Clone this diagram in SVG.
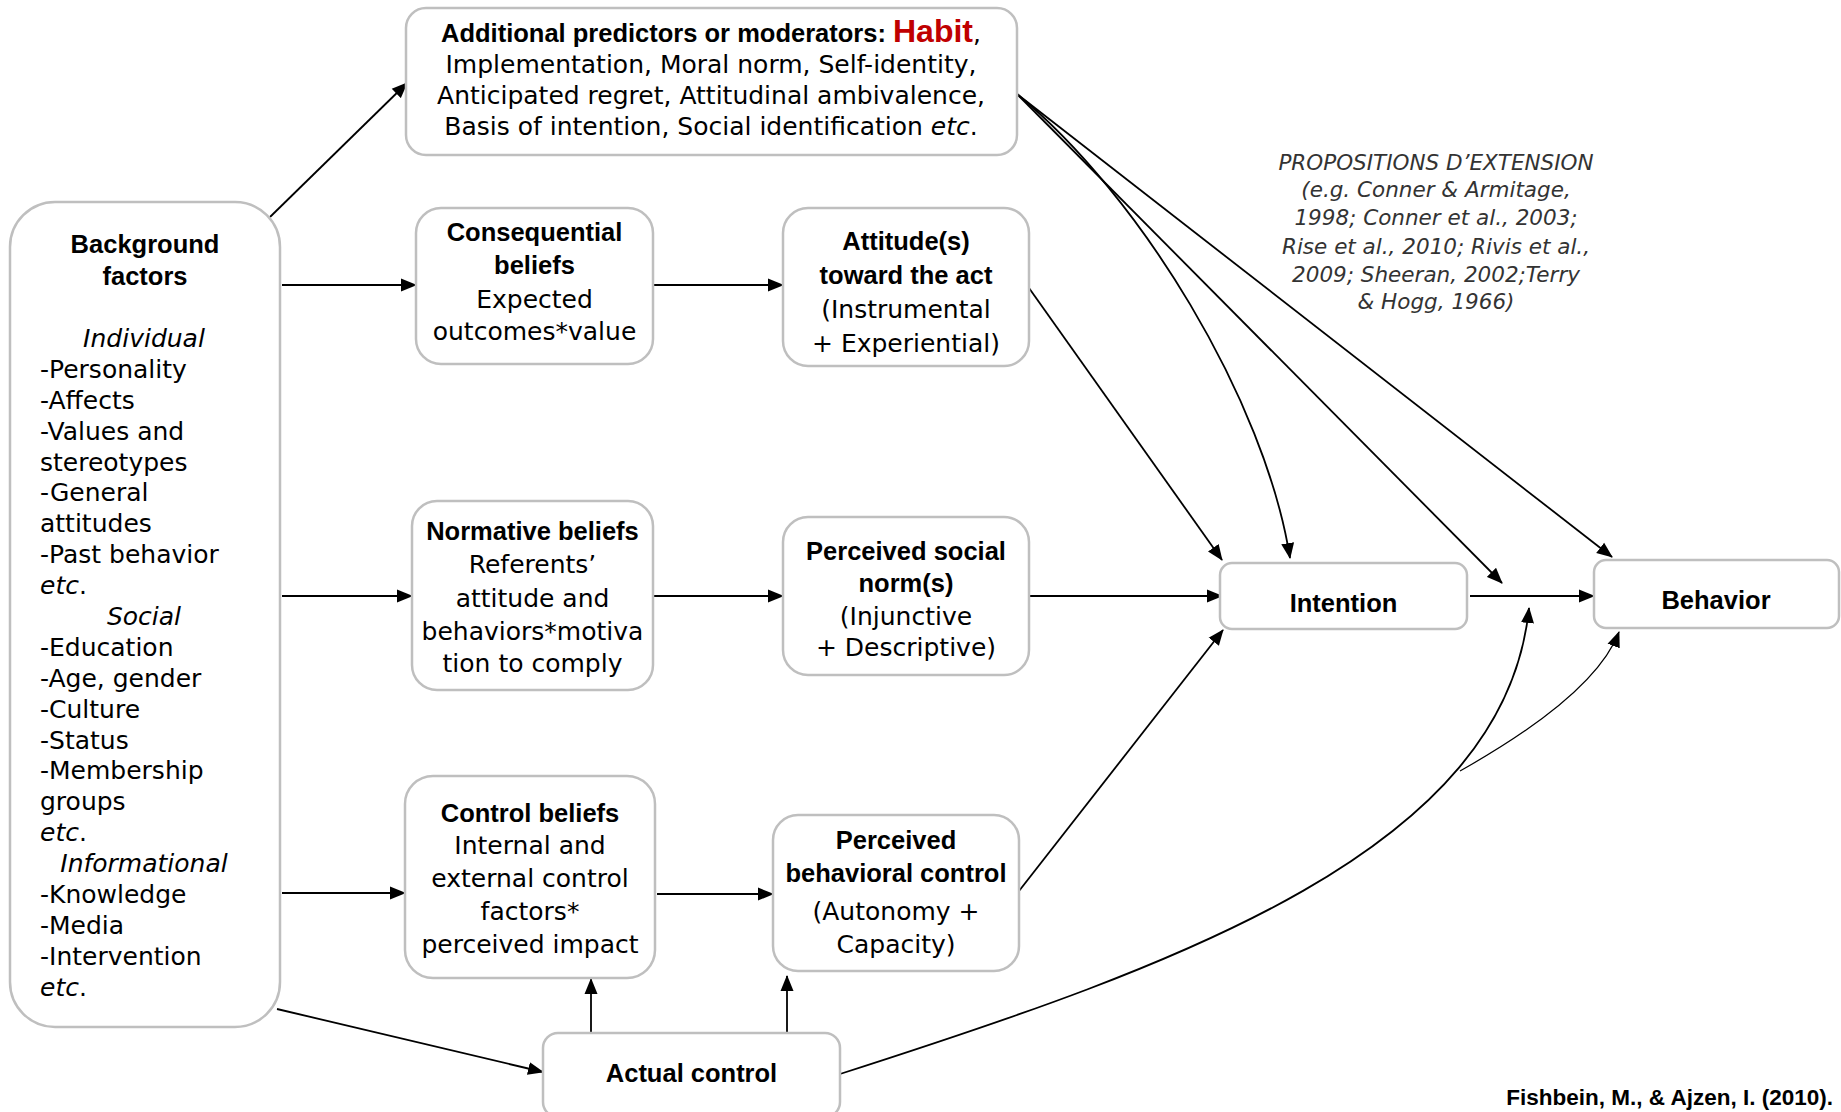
<svg xmlns="http://www.w3.org/2000/svg" width="1841" height="1112" viewBox="0 0 1841 1112">
<style>
.box{fill:#fff;stroke:#bfbfbf;stroke-width:2.5}
.b{font-family:"Liberation Sans",Arial,sans-serif;font-weight:bold;font-size:25.5px;fill:#000;text-anchor:middle}
.r{font-family:"DejaVu Sans",sans-serif;font-size:25px;fill:#000;text-anchor:middle}
.l{font-family:"DejaVu Sans",sans-serif;font-size:25px;fill:#000;text-anchor:start}
.i{font-style:italic}
.p{font-family:"DejaVu Sans",sans-serif;font-style:italic;font-size:21.5px;fill:#333;text-anchor:middle}
.c{fill:none;stroke:#000;stroke-width:1.8;marker-end:url(#ah)}
.cite{font-family:"Liberation Sans",Arial,sans-serif;font-weight:bold;font-size:22.5px;fill:#000;text-anchor:end}
</style>
<defs>
<marker id="ah" markerUnits="userSpaceOnUse" markerWidth="17" markerHeight="14" refX="15" refY="7" orient="auto">
<path d="M0,0.5 L16,7 L0,13.5 z" fill="#000"/>
</marker>
</defs>
<rect width="1841" height="1112" fill="#fff"/>

<g id="connectors">
<path class="c" d="M270,217 L407,83"/>
<path class="c" d="M282,285 L416,285"/>
<path class="c" d="M282,596 L412,596"/>
<path class="c" d="M282,893 L405,893"/>
<path class="c" d="M277,1009 L543,1072"/>
<path class="c" d="M654,285 L783,285"/>
<path class="c" d="M654,596 L783,596"/>
<path class="c" d="M657,894 L773,894"/>
<path class="c" d="M591,1033 L591,979"/>
<path class="c" d="M787,1033 L787,976"/>
<path class="c" d="M1029,288 L1222,560"/>
<path class="c" d="M1029,596 L1222,596"/>
<path class="c" d="M1019,891 L1223,630"/>
<path class="c" d="M1470,596 L1594,596"/>
<path class="c" d="M1017,94 C1140,195 1265,400 1290,558"/>
<path class="c" d="M1017,94 L1502,583"/>
<path class="c" d="M1017,94 L1612,557"/>
<path class="c" d="M840,1074 C1180,965 1505,850 1529,608"/>
<path class="c" style="stroke-width:1.2" d="M1460,771 Q1595,695 1619,632"/>
</g>

<g id="background">
<rect class="box" x="10" y="202" width="270" height="825" rx="45"/>
<text class="b" x="145" y="253">Background</text>
<text class="b" x="145" y="285">factors</text>
<text class="r i" x="144" y="347">Individual</text>
<text class="l" x="40" y="378">-Personality</text>
<text class="l" x="40" y="409">-Affects</text>
<text class="l" x="40" y="440">-Values and</text>
<text class="l" x="40" y="471">stereotypes</text>
<text class="l" x="40" y="501">-General</text>
<text class="l" x="40" y="532">attitudes</text>
<text class="l" x="40" y="563">-Past behavior</text>
<text class="l" x="40" y="594"><tspan class="i">etc</tspan>.</text>
<text class="r i" x="144" y="625">Social</text>
<text class="l" x="40" y="656">-Education</text>
<text class="l" x="40" y="687">-Age, gender</text>
<text class="l" x="40" y="718">-Culture</text>
<text class="l" x="40" y="749">-Status</text>
<text class="l" x="40" y="779">-Membership</text>
<text class="l" x="40" y="810">groups</text>
<text class="l" x="40" y="841"><tspan class="i">etc</tspan>.</text>
<text class="r i" x="144" y="872">Informational</text>
<text class="l" x="40" y="903">-Knowledge</text>
<text class="l" x="40" y="934">-Media</text>
<text class="l" x="40" y="965">-Intervention</text>
<text class="l" x="40" y="996"><tspan class="i">etc</tspan>.</text>
</g>

<g id="additional">
<rect class="box" x="406" y="8" width="611" height="147" rx="20"/>
<text class="b" x="711" y="42">Additional predictors or moderators: <tspan fill="#c00000" font-size="32">Habit</tspan><tspan font-weight="normal" font-family="DejaVu Sans, sans-serif" font-size="25">,</tspan></text>
<text class="r" x="711" y="73">Implementation, Moral norm, Self-identity,</text>
<text class="r" x="711" y="104">Anticipated regret, Attitudinal ambivalence,</text>
<text class="r" x="711" y="135">Basis of intention, Social identification <tspan class="i">etc</tspan>.</text>
</g>

<g id="consequential">
<rect class="box" x="416" y="208" width="237" height="156" rx="25"/>
<text class="b" x="534.5" y="241">Consequential</text>
<text class="b" x="534.5" y="274">beliefs</text>
<text class="r" x="534.5" y="308">Expected</text>
<text class="r" x="534.5" y="340">outcomes*value</text>
</g>

<g id="attitude">
<rect class="box" x="783" y="208" width="246" height="158" rx="25"/>
<text class="b" x="906" y="250">Attitude(s)</text>
<text class="b" x="906" y="284">toward the act</text>
<text class="r" x="906" y="318">(Instrumental</text>
<text class="r" x="906" y="352">+ Experiential)</text>
</g>

<g id="normative">
<rect class="box" x="412" y="501" width="241" height="189" rx="25"/>
<text class="b" x="532.5" y="540">Normative beliefs</text>
<text class="r" x="532.5" y="573">Referents’</text>
<text class="r" x="532.5" y="607">attitude and</text>
<text class="r" x="532.5" y="640">behaviors*motiva</text>
<text class="r" x="532.5" y="672">tion to comply</text>
</g>

<g id="social-norm">
<rect class="box" x="783" y="517" width="246" height="158" rx="25"/>
<text class="b" x="906" y="560">Perceived social</text>
<text class="b" x="906" y="592">norm(s)</text>
<text class="r" x="906" y="625">(Injunctive</text>
<text class="r" x="906" y="656">+ Descriptive)</text>
</g>

<g id="control-beliefs">
<rect class="box" x="405" y="776" width="250" height="202" rx="28"/>
<text class="b" x="530" y="822">Control beliefs</text>
<text class="r" x="530" y="854">Internal and</text>
<text class="r" x="530" y="887">external control</text>
<text class="r" x="530" y="920">factors*</text>
<text class="r" x="530" y="953">perceived impact</text>
</g>

<g id="pbc">
<rect class="box" x="773" y="815" width="246" height="156" rx="25"/>
<text class="b" x="896" y="849">Perceived</text>
<text class="b" x="896" y="882">behavioral control</text>
<text class="r" x="896" y="920">(Autonomy +</text>
<text class="r" x="896" y="953">Capacity)</text>
</g>

<g id="actual-control">
<rect class="box" x="543" y="1033" width="297" height="84" rx="15"/>
<text class="b" x="691.5" y="1082">Actual control</text>
</g>

<g id="intention">
<rect class="box" x="1220" y="563" width="247" height="66" rx="12"/>
<text class="b" x="1343.5" y="612">Intention</text>
</g>

<g id="behavior">
<rect class="box" x="1594" y="560" width="245" height="68" rx="12"/>
<text class="b" x="1716" y="609">Behavior</text>
</g>

<g id="propositions">
<text class="p" x="1436" y="170" font-size="18.5">PROPOSITIONS D’EXTENSION</text>
<text class="p" x="1436" y="197">(e.g. Conner &amp; Armitage,</text>
<text class="p" x="1436" y="225">1998; Conner et al., 2003;</text>
<text class="p" x="1436" y="254">Rise et al., 2010; Rivis et al.,</text>
<text class="p" x="1436" y="282">2009; Sheeran, 2002;Terry</text>
<text class="p" x="1436" y="309">&amp; Hogg, 1966)</text>
</g>

<g id="citation">
<text class="cite" x="1833" y="1105">Fishbein, M., &amp; Ajzen, I. (2010).</text>
</g>
</svg>
